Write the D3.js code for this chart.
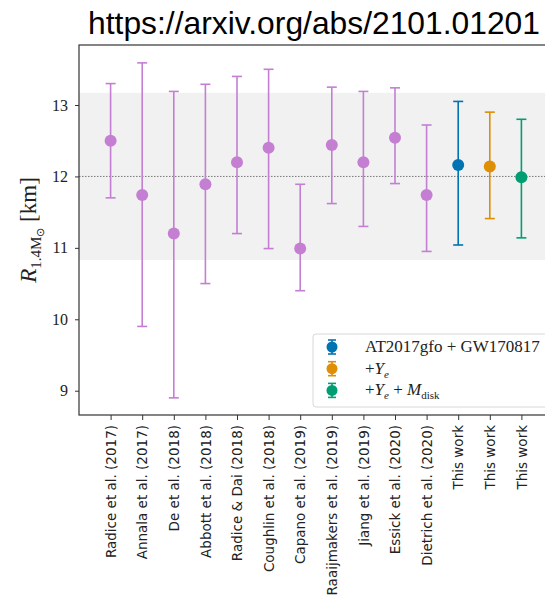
<!DOCTYPE html>
<html>
<head>
<meta charset="utf-8">
<script src="https://cdn.jsdelivr.net/npm/d3@7"></script>
<style>
  body { margin: 0; background: #fff; }
  svg { display: block; }
</style>
</head>
<body>
<div id="chart"></div>
<script>
var margin = { top: 45, bottom: 185, left: 79, right: -8 };

// data
var studies = ["Radice et al. (2017)", "Annala et al. (2017)", "De et al. (2018)", "Abbott et al. (2018)",
  "Radice & Dai (2018)", "Coughlin et al. (2018)", "Capano et al. (2019)", "Raaijmakers et al. (2019)",
  "Jiang et al. (2019)", "Essick et al. (2020)", "Dietrich et al. (2020)", "This work", "This work", "This work"];
var radius = [12.5, 11.74, 11.2, 11.89, 12.2, 12.4, 10.99, 12.44, 12.2, 12.54, 11.74, 12.16, 12.14, 11.99];
var lower = [11.7, 9.9, 8.9, 10.5, 11.2, 10.99, 10.4, 11.62, 11.3, 11.9, 10.95, 11.04, 11.41, 11.14];
var upper = [13.3, 13.59, 13.19, 13.29, 13.4, 13.5, 11.89, 13.25, 13.19, 13.24, 12.72, 13.05, 12.9, 12.8];
var group = ["lit", "lit", "lit", "lit", "lit", "lit", "lit", "lit", "lit", "lit", "lit", "base", "ye", "ye_md"];
var band = [10.83, 13.17];
var refLine = 12.0;
var yTicks = [9, 10, 11, 12, 13];

var width = 545, height = 600;
var innerW = width - margin.left - margin.right;
var innerH = height - margin.top - margin.bottom;
var serif = "Liberation Serif, Times New Roman, serif";

var color = d3.scaleOrdinal()
  .domain(["lit", "base", "ye", "ye_md"])
  .range(["#c47fd2", "#0173b2", "#de8f05", "#029e73"]);

var svg = d3.select("#chart").append("svg")
  .attr("width", width)
  .attr("height", height);

// url header
svg.append("text")
  .attr("x", 540).attr("y", 34)
  .attr("text-anchor", "end")
  .attr("font-family", "Liberation Sans, Arial, sans-serif")
  .attr("font-size", 31.8)
  .attr("fill", "#000")
  .text("https://arxiv.org/abs/2101.01201");

var g = svg.append("g").attr("transform", "translate(" + margin.left + "," + margin.top + ")");

var x = d3.scalePoint()
  .domain(d3.range(studies.length))
  .range([0, innerW])
  .padding(1);

var y = d3.scaleLinear()
  .domain([8.66, 13.84])
  .range([innerH, 0]);

// shaded band + reference line
g.append("rect")
  .attr("x", 0).attr("width", innerW)
  .attr("y", y(band[1])).attr("height", y(band[0]) - y(band[1]))
  .attr("fill", "#f1f1f1");

g.append("line")
  .attr("x1", 0).attr("x2", innerW)
  .attr("y1", y(refLine)).attr("y2", y(refLine))
  .attr("stroke", "#777").attr("stroke-width", 1)
  .attr("stroke-dasharray", "1.5,1.5");

// error bars
var pts = g.selectAll(".pt")
  .data(d3.range(studies.length))
  .enter().append("g")
  .attr("class", "pt")
  .attr("transform", function (i) { return "translate(" + x(i) + ",0)"; });

pts.append("line")
  .attr("y1", function (i) { return y(lower[i]); })
  .attr("y2", function (i) { return y(upper[i]); })
  .attr("stroke", function (i) { return color(group[i]); })
  .attr("stroke-width", 1.6);

pts.append("line")
  .attr("x1", -5).attr("x2", 5)
  .attr("y1", function (i) { return y(lower[i]); })
  .attr("y2", function (i) { return y(lower[i]); })
  .attr("stroke", function (i) { return color(group[i]); })
  .attr("stroke-width", 1.6);

pts.append("line")
  .attr("x1", -5).attr("x2", 5)
  .attr("y1", function (i) { return y(upper[i]); })
  .attr("y2", function (i) { return y(upper[i]); })
  .attr("stroke", function (i) { return color(group[i]); })
  .attr("stroke-width", 1.6);

pts.append("circle")
  .attr("cy", function (i) { return y(radius[i]); })
  .attr("r", 6)
  .attr("fill", function (i) { return color(group[i]); });

// axes
var yAxis = g.append("g")
  .call(d3.axisLeft(y).tickValues(yTicks).tickSize(4).tickPadding(7).tickFormat(d3.format("d")));
yAxis.select(".domain").remove();
yAxis.selectAll(".tick line").attr("stroke", "#333");
yAxis.selectAll("text")
  .attr("font-family", serif)
  .attr("font-size", 16)
  .attr("fill", "#222");

var xAxis = g.append("g")
  .attr("transform", "translate(0," + innerH + ")")
  .call(d3.axisBottom(x).tickSize(5).tickFormat(function (i) { return studies[i]; }));
xAxis.select(".domain").remove();
xAxis.selectAll(".tick line").attr("stroke", "#333");
xAxis.selectAll("text")
  .attr("transform", "rotate(-90)")
  .attr("x", -10).attr("y", 0).attr("dy", "0.35em")
  .attr("text-anchor", "end")
  .attr("font-family", "DejaVu Sans, sans-serif")
  .attr("font-size", 13.5)
  .attr("fill", "#222");

// frame
g.append("rect")
  .attr("x", 0).attr("y", 0)
  .attr("width", innerW).attr("height", innerH)
  .attr("fill", "none").attr("stroke", "#333").attr("stroke-width", 1.2);

// y label
var yl = svg.append("text")
  .attr("transform", "translate(36," + (margin.top + innerH / 2) + ") rotate(-90)")
  .attr("text-anchor", "middle")
  .attr("font-family", serif)
  .attr("font-size", 23)
  .attr("fill", "#222");
yl.append("tspan").attr("font-style", "italic").text("R");
yl.append("tspan").attr("font-size", 15).attr("dy", 5).text("1.4M");
yl.append("tspan").attr("font-size", 11).attr("dy", 3).text("⊙");
yl.append("tspan").attr("dy", -8).text("  [km]");

// legend
var legendItems = [
  { key: "base", parts: [["AT2017gfo + GW170817", "normal", 0, 17]] },
  { key: "ye", parts: [["+", "normal", 0, 17], ["Y", "italic", 0, 17], ["e", "italic", 4, 11]] },
  { key: "ye_md", parts: [["+", "normal", 0, 17], ["Y", "italic", 0, 17], ["e", "italic", 4, 11],
    [" + ", "normal", -4, 17], ["M", "italic", 0, 17], ["disk", "normal", 4, 11]] }
];

var legend = svg.append("g").attr("transform", "translate(313,334)");
legend.append("rect")
  .attr("width", 245).attr("height", 73).attr("rx", 3)
  .attr("fill", "#fff").attr("fill-opacity", 0.85)
  .attr("stroke", "#d8d8d8").attr("stroke-width", 1);

var li = legend.selectAll(".li")
  .data(legendItems)
  .enter().append("g")
  .attr("transform", function (d, i) { return "translate(19," + (13 + i * 21.7) + ")"; });

li.append("line")
  .attr("y1", -7).attr("y2", 7)
  .attr("stroke", function (d) { return color(d.key); }).attr("stroke-width", 1.6);
li.selectAll(".cap").data(function (d) { return [d, d]; }).enter().append("line")
  .attr("x1", -4).attr("x2", 4)
  .attr("y1", function (d, i) { return i ? 7 : -7; })
  .attr("y2", function (d, i) { return i ? 7 : -7; })
  .attr("stroke", function (d) { return color(d.key); }).attr("stroke-width", 1.6);
li.append("circle")
  .attr("r", 5.5)
  .attr("fill", function (d) { return color(d.key); });

var lt = li.append("text")
  .attr("x", 33).attr("y", 5)
  .attr("font-family", serif)
  .attr("fill", "#222");
lt.selectAll("tspan")
  .data(function (d) { return d.parts; })
  .enter().append("tspan")
  .attr("font-style", function (p) { return p[1]; })
  .attr("dy", function (p) { return p[2]; })
  .attr("font-size", function (p) { return p[3]; })
  .text(function (p) { return p[0]; });
</script>
</body>
</html>
